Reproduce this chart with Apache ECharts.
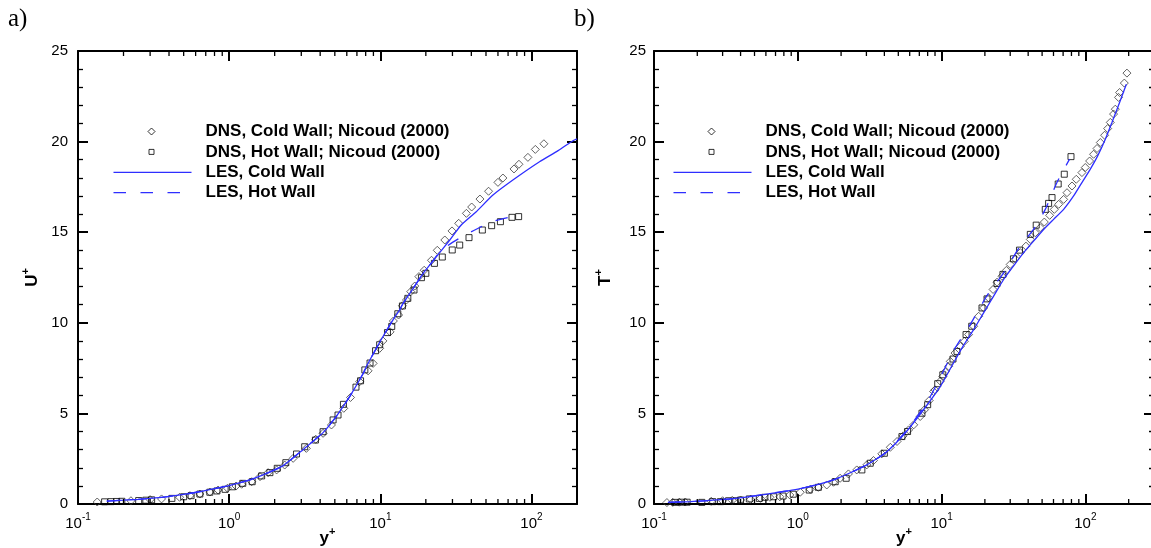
<!DOCTYPE html>
<html><head><meta charset="utf-8">
<script src="https://cdn.jsdelivr.net/npm/echarts@6/dist/echarts.min.js"></script>
<style>html,body{margin:0;padding:0;background:#fff}#c{width:1151px;height:548px}</style>
</head><body><div id="c"></div><script>
// ---------- data (x = y+, y = U+ or T+) ----------
const aDnsCold = [[0.134,0.11],[0.224,0.18],[0.30,0.24],[0.357,0.28],[0.47,0.37],[0.55,0.46],[0.64,0.55],[0.745,0.66],[0.845,0.77],[0.975,0.87],[1.11,0.99],[1.21,1.09],[1.41,1.23],[1.6,1.51],[1.81,1.73],[2.06,1.88],[2.33,2.15],[2.65,2.52],[3.24,3.07],[3.74,3.57],[4.18,3.9],[4.75,4.36],[5.73,5.28],[6.35,5.88],[7.3,6.75],[8.3,7.35],[8.96,7.76],[9.9,8.59],[10.4,9.0],[11.6,9.5],[12.2,10.1],[13.2,10.43],[14,10.94],[14.9,11.26],[15.9,11.72],[16.9,12.03],[18,12.55],[19.5,12.9],[21.8,13.45],[23.8,14.0],[26.7,14.57],[29.8,15.07],[33,15.49],[37.1,16.04],[40.2,16.39],[45.6,16.83],[52,17.26],[60,17.75],[64.7,17.99],[76.6,18.49],[82.6,18.75],[94.7,19.13],[106,19.57],[120.8,19.88]];
const aDnsHot = [[0.15,0.12],[0.165,0.13],[0.18,0.14],[0.195,0.15],[0.252,0.19],[0.281,0.21],[0.307,0.23],[0.418,0.31],[0.50,0.40],[0.56,0.46],[0.64,0.55],[0.745,0.65],[0.83,0.72],[0.94,0.81],[1.05,0.95],[1.23,1.14],[1.42,1.23],[1.64,1.55],[1.86,1.73],[2.08,1.97],[2.37,2.28],[2.79,2.76],[3.16,3.16],[3.72,3.53],[4.18,3.99],[4.87,4.64],[5.25,4.91],[5.7,5.5],[6.9,6.45],[7.4,6.8],[7.9,7.4],[8.55,7.78],[9.3,8.46],[9.9,8.79],[11.15,9.46],[11.9,9.8],[13.05,10.5],[14,10.93],[15.2,11.35],[16.7,11.81],[18.7,12.49],[20,12.73],[22.8,13.28],[25.7,13.63],[29.9,14.02],[33.5,14.29],[38.6,14.7],[47.3,15.12],[54.5,15.36],[62.3,15.58],[74.3,15.82],[82.2,15.86]];
const aLesCold = [[0.155,0.16],[0.2,0.21],[0.25,0.26],[0.3,0.31],[0.37,0.38],[0.5,0.53],[0.65,0.69],[0.83,0.87],[1.0,1.02],[1.37,1.33],[1.8,1.72],[2.28,2.12],[3.08,3.0],[4.18,3.94],[5.0,4.72],[5.67,5.38],[6.3,5.95],[7.7,7.2],[8.1,7.6],[10.1,9.05],[12.1,10.15],[13.4,10.7],[14.1,11.05],[16.5,11.9],[19.2,12.73],[23.5,13.65],[28.8,14.57],[34.3,15.4],[43.1,16.13],[55.6,17.05],[75.3,17.88],[113,18.89],[150,19.5],[188,20.05],[200,20.15]];
const aLesHot = [[0.155,0.16],[0.2,0.21],[0.25,0.26],[0.3,0.31],[0.37,0.38],[0.5,0.53],[0.65,0.69],[0.83,0.87],[1.0,1.02],[1.37,1.33],[1.8,1.72],[2.28,2.12],[3.08,3.0],[4.18,3.94],[5.0,4.72],[5.67,5.38],[6.3,5.95],[7.7,7.2],[8.1,7.6],[10.1,9.05],[12.1,10.15],[13.4,10.7],[14.1,11.05],[16.5,11.9],[19.2,12.73],[22,13.35],[25,13.95],[30.2,14.45],[37.1,14.88],[46.5,15.3],[55.6,15.6],[65,15.75],[78,15.9]];

const bDnsCold = [[0.123,0.08],[0.135,0.09],[0.15,0.1],[0.165,0.11],[0.25,0.15],[0.3,0.18],[0.35,0.2],[0.40,0.22],[0.47,0.26],[0.55,0.31],[0.64,0.37],[0.75,0.4],[0.88,0.5],[1.04,0.65],[1.22,0.81],[1.39,0.92],[1.59,1.05],[1.77,1.2],[1.97,1.42],[2.25,1.66],[2.57,1.88],[3.02,2.16],[3.36,2.4],[3.84,2.77],[4.4,3.13],[4.9,3.45],[5.4,3.76],[5.9,4.09],[6.4,4.37],[7.1,4.83],[7.6,5.2],[8.2,5.71],[8.8,6.21],[9.0,6.3],[9.8,6.78],[10.2,7.04],[10.6,7.3],[11.2,7.6],[11.5,7.87],[12.4,8.33],[13.5,8.7],[14.4,8.98],[15.4,9.35],[16.7,9.81],[18.1,10.36],[19.6,10.82],[21.2,11.38],[22.8,11.84],[24.3,12.24],[26.3,12.57],[28.2,12.89],[30,13.22],[32.5,13.53],[35.3,13.87],[38.6,14.23],[41.4,14.6],[44.8,14.97],[48.5,15.25],[51.8,15.56],[56.4,15.93],[60.8,16.26],[65.2,16.54],[70.6,16.81],[74.5,17.18],[80.7,17.55],[86.4,17.92],[94.6,18.29],[99.8,18.57],[107,18.93],[114,19.3],[120.5,19.62],[127,19.95],[136,20.35],[142.8,20.72],[149,21.06],[157,21.52],[161.4,21.79],[170,22.44],[173,22.71],[186.5,23.23],[194.5,23.78]];
const bDnsHot = [[0.14,0.09],[0.155,0.1],[0.17,0.1],[0.215,0.09],[0.256,0.13],[0.29,0.13],[0.33,0.18],[0.37,0.18],[0.40,0.22],[0.46,0.28],[0.54,0.31],[0.59,0.37],[0.68,0.4],[0.79,0.44],[0.93,0.54],[1.2,0.77],[1.39,0.92],[1.82,1.23],[2.17,1.42],[2.79,1.88],[3.19,2.25],[4.0,2.8],[5.3,3.72],[5.8,4.0],[7.3,5.01],[8.0,5.48],[9.4,6.64],[10.2,7.13],[12.0,8.0],[12.8,8.42],[14.8,9.35],[16.2,9.81],[19.1,10.82],[20.7,11.32],[24.3,12.17],[26.7,12.67],[31.6,13.53],[34.8,14.01],[41.4,14.88],[45.5,15.39],[52.6,16.26],[55.5,16.59],[58.6,16.91],[64.7,17.66],[71.3,18.2],[79.4,19.17]];
const bLesCold = [[0.125,0.09],[0.18,0.13],[0.245,0.2],[0.356,0.3],[0.61,0.55],[1.04,0.85],[1.77,1.33],[3.02,2.16],[4.16,2.89],[5.7,4.0],[7.9,5.45],[9.8,6.49],[12.1,7.78],[14.2,8.75],[16.7,9.62],[19.6,10.55],[23,11.47],[27,12.39],[31.6,13.13],[37.2,13.87],[43.6,14.51],[51.2,15.15],[60.1,15.71],[70.6,16.26],[82.8,17.0],[94.6,17.74],[108,18.47],[121.7,19.21],[137.6,20.13],[153,21.06],[166,21.79],[180,22.53],[192.6,23.17]];
const bLesHot = [[0.125,0.09],[0.18,0.13],[0.245,0.2],[0.356,0.3],[0.61,0.55],[1.04,0.85],[1.77,1.33],[3.02,2.16],[4.16,2.89],[5.7,4.05],[7.9,5.6],[9.8,7.0],[12.4,8.6],[15.8,9.9],[20.7,11.5],[27,12.76],[35.2,14.23],[43.6,15.15],[52.6,16.26],[63.4,17.74],[77.6,19.03]];

// ---------- axes / labels ----------
const seriesNames = ['DNS, Cold Wall; Nicoud (2000)', 'DNS, Hot Wall; Nicoud (2000)', 'LES, Cold Wall', 'LES, Hot Wall'];
const panelLabels = ['a)', 'b)'];
const yAxisTitles = ['U', 'T'];
const xAxisTitle = 'y';
const xDecadeTicks = [0.1, 1, 10, 100];
const xDecadeExponents = ['-1', '0', '1', '2'];
const yTickValues = [0, 5, 10, 15, 20, 25];
const xMinorTicksA = [0.2,0.3,0.4,0.5,0.6,0.7,0.8,0.9,2,3,4,5,6,7,8,9,20,30,40,50,60,70,80,90];
const xMinorTicksB = [0.2,0.3,0.4,0.5,0.6,0.7,0.8,0.9,2,3,4,5,6,7,8,9,20,30,40,50,60,70,80,90,200];
const xRangeA = [0.1, 200];
const xRangeB = [0.1, 300];
const yRange = [0, 25];

const FONT = "'Liberation Sans', Arial, Helvetica, sans-serif";
const BLUE = '#2e2eff';

function xLabel(v) {
  const e = Math.log10(v);
  const r = Math.round(e);
  if (Math.abs(e - r) > 1e-6) return '';
  const i = xDecadeTicks.findIndex(t => Math.abs(Math.log10(t) - r) < 1e-6);
  return i < 0 ? '' : '{b|10}{s|' + xDecadeExponents[i] + '}';
}
const tickRich = {
  b: { fontSize: 15, fontFamily: FONT, color: '#000', verticalAlign: 'bottom', lineHeight: 19 },
  s: { fontSize: 10, fontFamily: FONT, color: '#000', verticalAlign: 'top', lineHeight: 10 }
};
const titleRich = {
  b: { fontSize: 17, fontWeight: 'bold', fontFamily: FONT, color: '#000', verticalAlign: 'bottom', lineHeight: 21 },
  s: { fontSize: 11, fontWeight: 'bold', fontFamily: FONT, color: '#000', verticalAlign: 'top', lineHeight: 11 }
};
const frame = { show: true, onZero: false, lineStyle: { color: '#000', width: 2 } };
const majorTick = { show: true, inside: true, length: 10, lineStyle: { color: '#000', width: 2 } };
const minorTickY = { show: true, splitNumber: 5, length: 5, lineStyle: { color: '#000', width: 1.3 } };

function xAxes(grid, range) {
  return [
    { gridIndex: grid, type: 'log', logBase: 10, min: range[0], max: range[1], position: 'bottom',
      axisLine: frame, axisTick: majorTick, splitLine: { show: false },
      axisLabel: { margin: 8, formatter: xLabel, rich: tickRich, showMinLabel: true, showMaxLabel: true, hideOverlap: false },
      name: '{b|' + xAxisTitle + '}{s|+}', nameLocation: 'middle', nameGap: 22, nameMoveOverlap: false,
      nameTextStyle: { rich: titleRich } },
    { gridIndex: grid, type: 'log', logBase: 10, min: range[0], max: range[1], position: 'top',
      axisLine: frame, axisTick: majorTick, splitLine: { show: false }, axisLabel: { show: false } }
  ];
}
function yAxes(grid, title, margin, gap) {
  return [
    { gridIndex: grid, type: 'value', min: yRange[0], max: yRange[1], interval: 5, position: 'left',
      axisLine: frame, axisTick: majorTick, minorTick: minorTickY, splitLine: { show: false },
      axisLabel: { margin: margin, fontSize: 15, fontFamily: FONT, color: '#000',
        formatter: v => (yTickValues.indexOf(v) >= 0 ? String(v) : '') },
      name: '{b|' + title + '}{s|+}', nameLocation: 'middle', nameGap: gap, nameRotate: 90, nameMoveOverlap: false,
      nameTextStyle: { rich: titleRich } },
    { gridIndex: grid, type: 'value', min: yRange[0], max: yRange[1], interval: 5, position: 'right',
      axisLine: frame, axisTick: majorTick, minorTick: minorTickY, splitLine: { show: false }, axisLabel: { show: false } }
  ];
}

function minorTickSeries(xi, yi, values) {
  return {
    type: 'custom', xAxisIndex: xi, yAxisIndex: yi, silent: true, z: 10, clip: false,
    data: values.map(v => [v, yRange[0]]),
    renderItem: (params, api) => {
      const v = api.value(0);
      const pb = api.coord([v, yRange[0]]);
      const pt = api.coord([v, yRange[1]]);
      return { type: 'group', children: [
        { type: 'line', shape: { x1: pb[0], y1: pb[1], x2: pb[0], y2: pb[1] - 5 }, style: { stroke: '#000', lineWidth: 1.3 } },
        { type: 'line', shape: { x1: pt[0], y1: pt[1], x2: pt[0], y2: pt[1] + 5 }, style: { stroke: '#000', lineWidth: 1.3 } }
      ] };
    }
  };
}
function panelSeries(xi, yi, dnsCold, dnsHot, lesCold, lesHot) {
  return [
    { name: seriesNames[0], type: 'scatter', xAxisIndex: xi, yAxisIndex: yi, data: dnsCold, symbol: 'diamond', symbolSize: 8,
      itemStyle: { color: 'rgba(255,255,255,0)', borderColor: '#3c3c3c', borderWidth: 1 }, z: 2 },
    { name: seriesNames[1], type: 'scatter', xAxisIndex: xi, yAxisIndex: yi, data: dnsHot, symbol: 'rect', symbolSize: 6,
      itemStyle: { color: 'rgba(255,255,255,0)', borderColor: '#000', borderWidth: 1 }, z: 2 },
    { name: seriesNames[2], type: 'line', xAxisIndex: xi, yAxisIndex: yi, data: lesCold, symbol: 'none', smooth: 0.2,
      lineStyle: { color: BLUE, width: 1.3 }, itemStyle: { color: BLUE }, z: 3 },
    { name: seriesNames[3], type: 'line', xAxisIndex: xi, yAxisIndex: yi, data: lesHot, symbol: 'none', smooth: 0.2,
      lineStyle: { color: BLUE, width: 1.3, type: [12.5, 14.5] }, itemStyle: { color: BLUE }, z: 3 }
  ];
}
const diamondIcon = 'path://M0,0M78,14M38,3.5L41.5,7L38,10.5L34.5,7Z';
const squareIcon = 'path://M0,0M78,14M35.5,4.5L40.5,4.5L40.5,9.5L35.5,9.5Z';
const solidIcon = 'path://M0,0M78,14M0,6.35L78,6.35L78,7.65L0,7.65Z';
const dashedIcon = 'path://M0,0M78,14M0,6.35L12.5,6.35L12.5,7.65L0,7.65ZM27,6.35L39.5,6.35L39.5,7.65L27,7.65ZM54,6.35L66.5,6.35L66.5,7.65L54,7.65Z';
function legendAt(left) {
  return {
    left: left, top: 123, orient: 'vertical', padding: 0, itemWidth: 78, itemHeight: 14, itemGap: 3.4,
    selectedMode: false,
    textStyle: { fontFamily: FONT, fontSize: 17, fontWeight: 'bold', color: '#000', lineHeight: 14, padding: [0, 0, 0, 9] },
    data: [
      { name: seriesNames[0], icon: diamondIcon, itemStyle: { color: 'rgba(255,255,255,0)', borderColor: '#000', borderWidth: 1 } },
      { name: seriesNames[1], icon: squareIcon, itemStyle: { color: 'rgba(255,255,255,0)', borderColor: '#000', borderWidth: 1 } },
      { name: seriesNames[2], icon: solidIcon, itemStyle: { color: BLUE, borderWidth: 0 } },
      { name: seriesNames[3], icon: dashedIcon, itemStyle: { color: BLUE, borderWidth: 0 } }
    ]
  };
}

const chart = echarts.init(document.getElementById('c'), null, { renderer: 'canvas' });
chart.setOption({
  animation: false,
  backgroundColor: '#fff',
  title: [
    { text: panelLabels[0], left: 8, top: 7, padding: 0, textStyle: { fontFamily: "'Liberation Serif', 'Times New Roman', serif", fontSize: 25, fontWeight: 'normal', color: '#000' } },
    { text: panelLabels[1], left: 574, top: 7, padding: 0, textStyle: { fontFamily: "'Liberation Serif', 'Times New Roman', serif", fontSize: 25, fontWeight: 'normal', color: '#000' } }
  ],
  grid: [
    { left: 78, top: 51, width: 499, height: 453, containLabel: false, outerBoundsMode: 'none' },
    { left: 654, top: 51, width: 500, height: 453, containLabel: false, outerBoundsMode: 'none' }
  ],
  xAxis: [...xAxes(0, xRangeA), ...xAxes(1, xRangeB)],
  yAxis: [...yAxes(0, yAxisTitles[0], 10, 37), ...yAxes(1, yAxisTitles[1], 8, 40)],
  legend: [legendAt(113), legendAt(673)],
  series: [
    ...panelSeries(0, 0, aDnsCold, aDnsHot, aLesCold, aLesHot),
    ...panelSeries(2, 2, bDnsCold, bDnsHot, bLesCold, bLesHot),
    minorTickSeries(0, 0, xMinorTicksA),
    minorTickSeries(2, 2, xMinorTicksB)
  ]
});
</script></body></html>
